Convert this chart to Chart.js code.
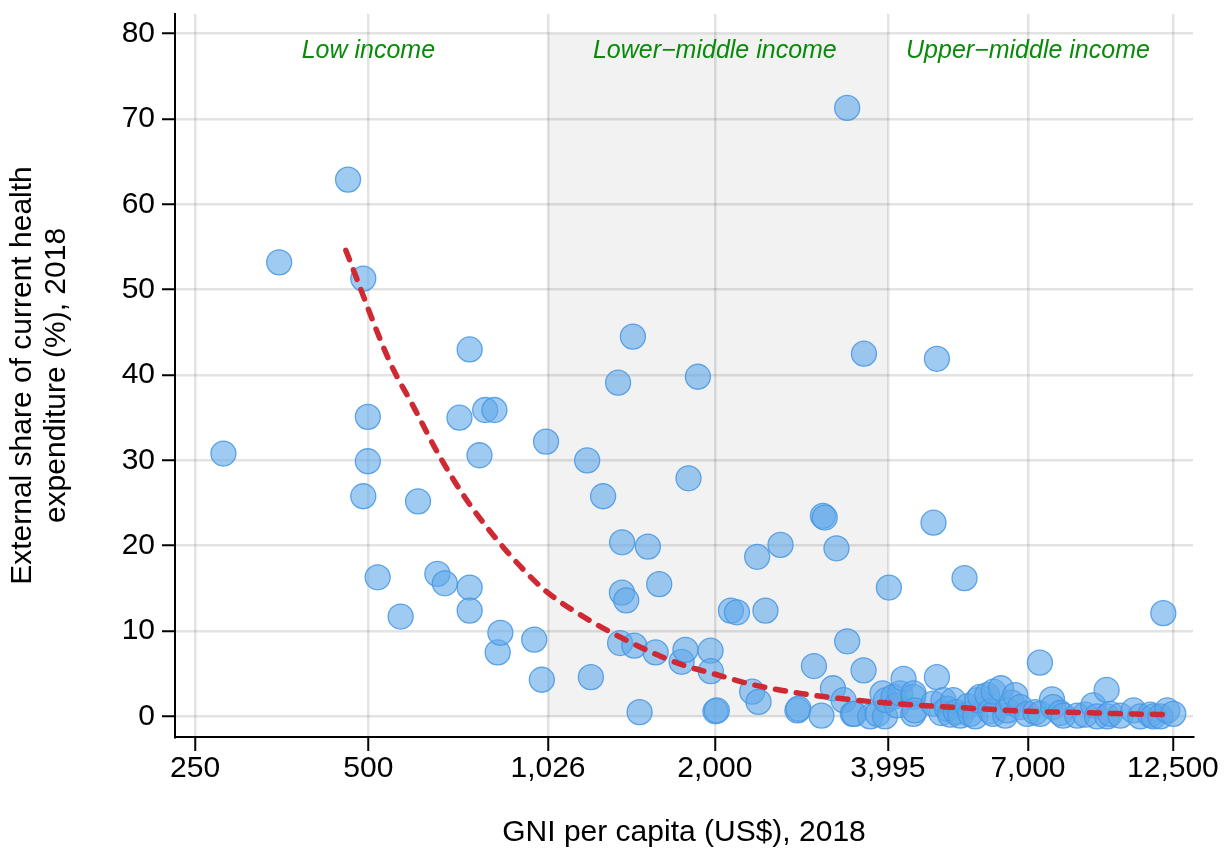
<!DOCTYPE html>
<html>
<head>
<meta charset="utf-8">
<script src="https://cdn.jsdelivr.net/npm/chart.js@4.4.1/dist/chart.umd.min.js"></script>
<style>
    html, body { margin: 0; padding: 0; background: #fff; }
    canvas { display: block; }
</style>
</head>
<body>
<canvas id="chart" width="1230" height="850"></canvas>
<script>
// GNI per capita (US$) and external share of health spending (%), one entry per country
const gniPerCapita = [
    280, 350, 461, 490, 499, 499, 490, 519, 569, 610,
    659, 679, 720, 750, 750, 750, 780, 798, 828, 839,
    848, 971, 1001, 1018,
    1200, 1218, 1279, 1358, 1369, 1379, 1380, 1403, 1441, 1449,
    1480, 1530, 1578, 1601, 1751, 1778, 1800, 1869, 1966, 1968,
    2005, 2016, 2133, 2185, 2322, 2369, 2382, 2449, 2601, 2784,
    2794, 2973, 3064, 3082, 3104, 3208, 3254, 3348, 3396, 3396,
    3474, 3493, 3626, 3632, 3724, 3835, 3912, 3950, 3967,
    4013, 4088, 4144, 4199, 4255, 4424, 4424, 4429, 4450, 4793,
    4797, 4863, 4863, 4950, 4993, 5067, 5129, 5191, 5250, 5339,
    5431, 5504, 5557, 5670, 5715, 5783, 5947, 6019, 6092, 6100,
    6283, 6392, 6444, 6566, 6653, 6787, 6980, 7208, 7342, 7351,
    7706, 7737, 7965, 8061, 8528, 8803, 9090, 9226, 9588, 9614,
    9729, 10130, 10680, 10970, 11420, 11570, 11890, 12030, 12220, 12520
];
const externalShare = [
    30.8, 53.2, 62.9, 51.3, 35.1, 29.9, 25.8, 16.3, 11.7, 25.2,
    16.7, 15.6, 35.0, 43.0, 15.1, 12.4, 30.6, 35.9, 35.9, 7.5,
    9.8, 9.0, 4.3, 32.2,
    30.0, 4.6, 25.8, 39.1, 8.6, 14.5, 20.4, 13.6, 44.5, 8.3,
    0.5, 19.9, 7.5, 15.5, 6.4, 7.8, 27.9, 39.8, 7.7, 5.3,
    0.6, 0.7, 12.4, 12.2, 2.9, 18.7, 1.7, 12.4, 20.1, 0.7,
    0.9, 5.9, 0.1, 23.5, 23.3, 3.3, 19.7, 1.9, 71.3, 8.8,
    0.3, 0.3, 5.4, 42.5, 0.0, 0.3, 2.7, 0.0, 1.9,
    15.1, 2.3, 1.3, 2.7, 4.4, 2.3, 0.3, 2.7, 0.7, 1.5,
    22.7, 41.9, 4.6, 0.4, 1.9, 0.9, 0.2, 1.9, 0.5, 0.1,
    16.2, 1.2, 0.3, 0.0, 1.9, 2.3, 2.5, 0.6, 0.3, 2.9,
    3.3, 0.1, 0.7, 1.6, 2.5, 1.1, 0.3, 0.5, 6.3, 0.3,
    2.0, 1.1, 0.4, 0.1, 0.1, 0.2, 1.3, 0.0, 3.1, 0.0,
    0.3, 0.1, 0.7, 0.0, 0.2, 0.0, 0.0, 12.1, 0.7, 0.3
];

// fitted curve
const fitGni = [457, 546, 599, 666, 742, 825, 918, 1021, 1215, 1369, 1565,
    1764, 1990, 2334, 2814, 3303, 3950, 4797, 5780, 7000, 8630, 10500, 12370];
const fitShare = [54.6, 41.4, 36.3, 30.4, 25.3, 21.2, 17.6, 14.6, 11.2, 9.3, 7.4,
    6.0, 5.0, 3.7, 2.7, 2.1, 1.6, 1.2, 0.9, 0.6, 0.45, 0.3, 0.2];

const xTicks = [250, 500, 1026, 2000, 3995, 7000, 12500];
const yTicks = [0, 10, 20, 30, 40, 50, 60, 70, 80];

// income group thresholds and their labels
const bandEdges = [1026, 3995];
const bandTop = 80;
const groupNames = ['Low income', 'Lower\u2212middle income', 'Upper\u2212middle income'];
const groupLabelX = [500, 2000, 7000];
const groupLabelY = 78;

const FONT = "'Liberation Sans', Arial, Helvetica, sans-serif";

const incomeBands = {
    id: 'incomeBands',
    beforeDraw(chart) {
        const { ctx, scales: { x, y } } = chart;
        const x0 = x.getPixelForValue(bandEdges[0]);
        const x1 = x.getPixelForValue(bandEdges[1]);
        const y0 = y.getPixelForValue(0);
        const y1 = y.getPixelForValue(bandTop);
        ctx.save();
        ctx.fillStyle = '#f2f2f2';
        ctx.fillRect(x0, y1, x1 - x0, y0 - y1);
        ctx.restore();
    },
    beforeDatasetsDraw(chart) {
        const { ctx, scales: { x, y } } = chart;
        ctx.save();
        ctx.font = `italic 25px ${FONT}`;
        ctx.fillStyle = '#0a8a0a';
        ctx.textAlign = 'center';
        ctx.textBaseline = 'middle';
        groupNames.forEach((name, i) => {
            ctx.fillText(name, x.getPixelForValue(groupLabelX[i]), y.getPixelForValue(groupLabelY));
        });
        ctx.restore();
    }
};

new Chart(document.getElementById('chart'), {
    type: 'scatter',
    data: {
        datasets: [
            {
                type: 'line',
                data: fitGni.map((g, i) => ({ x: g, y: fitShare[i] })),
                borderColor: '#cf2a33',
                borderWidth: 5.5,
                borderDash: [10, 11],
                borderCapStyle: 'round',
                cubicInterpolationMode: 'monotone',
                pointRadius: 0,
                fill: false,
                order: 0
            },
            {
                data: gniPerCapita.map((g, i) => ({ x: g, y: externalShare[i] })),
                backgroundColor: 'rgba(95,168,234,0.6)',
                borderColor: 'rgba(70,150,228,0.85)',
                borderWidth: 1.3,
                pointRadius: 12.5,
                order: 1
            }
        ]
    },
    options: {
        responsive: false,
        animation: false,
        events: [],
        layout: { padding: { top: 14, right: 37, bottom: 0, left: 0 } },
        plugins: {
            legend: { display: false },
            tooltip: { enabled: false }
        },
        scales: {
            x: {
                type: 'logarithmic',
                min: 230.7,
                max: 13547,
                afterBuildTicks: s => { s.ticks = xTicks.map(v => ({ value: v })); },
                afterFit: s => { s.height = 113; s.paddingLeft = 0; s.paddingRight = 0; },
                ticks: {
                    color: '#000',
                    font: { family: FONT, size: 30 },
                    padding: 0,
                    maxRotation: 0,
                    autoSkip: false,
                    callback: v => v.toLocaleString('en-US')
                },
                grid: {
                    color: 'rgba(0,0,0,0.11)',
                    lineWidth: 2.5,
                    tickColor: '#000',
                    tickWidth: 2,
                    tickLength: 14
                },
                border: { color: '#000', width: 2 },
                title: {
                    display: true,
                    text: 'GNI per capita (US$), 2018',
                    color: '#000',
                    font: { family: FONT, size: 30, lineHeight: 1.15 },
                    padding: { top: 0, bottom: 0 }
                }
            },
            y: {
                min: -2.41,
                max: 82.3,
                afterBuildTicks: s => { s.ticks = yTicks.map(v => ({ value: v })); },
                afterFit: s => { s.width = 175; s.paddingTop = 0; s.paddingBottom = 0; },
                ticks: {
                    color: '#000',
                    font: { family: FONT, size: 30 },
                    padding: 7
                },
                grid: {
                    color: 'rgba(0,0,0,0.11)',
                    lineWidth: 2.5,
                    tickColor: '#000',
                    tickWidth: 2,
                    tickLength: 13
                },
                border: { color: '#000', width: 2 },
                title: {
                    display: true,
                    text: ['External share of current health', 'expenditure (%), 2018'],
                    color: '#000',
                    font: { family: FONT, size: 30, lineHeight: 1.15 },
                    padding: { top: 5, bottom: 0 }
                }
            }
        }
    },
    plugins: [incomeBands]
});
</script>
</body>
</html>
